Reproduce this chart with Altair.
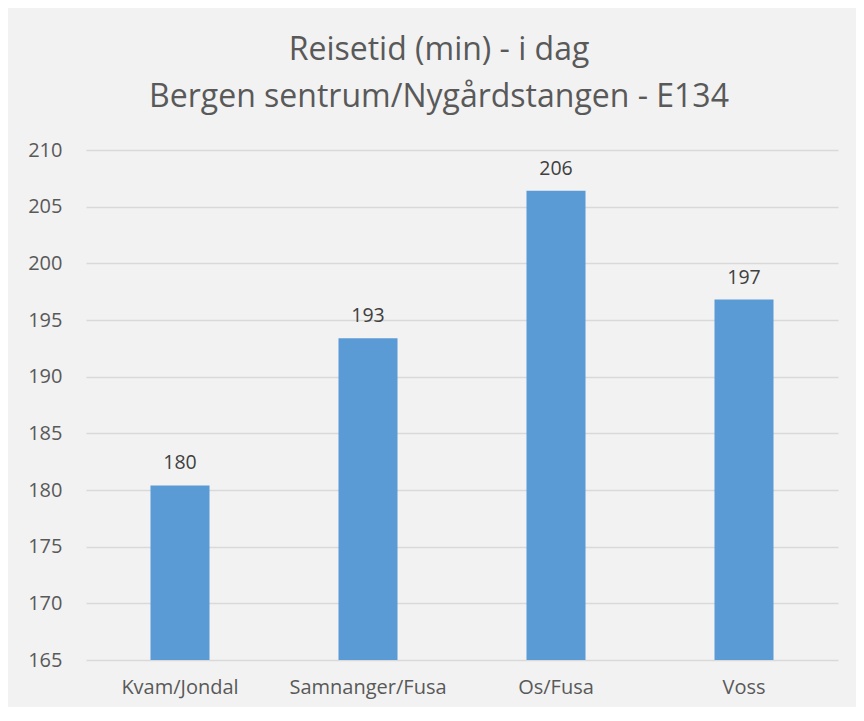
import altair as alt
import pandas as pd

categories = ["Kvam/Jondal", "Samnanger/Fusa", "Os/Fusa", "Voss"]
values = [180.4, 193.4, 206.4, 196.8]
y_ticks = [165, 170, 175, 180, 185, 190, 195, 200, 205, 210]

df = pd.DataFrame({"omrade": categories, "minutter": values})

font = "Open Sans"

base = alt.Chart(df).encode(
    x=alt.X("omrade:N", sort=categories, title=None,
            scale=alt.Scale(paddingInner=0.686, paddingOuter=0.343),
            axis=alt.Axis(labelAngle=0, labelFont=font, labelFontSize=20,
                          labelColor="#595959", ticks=False, domain=False,
                          labelPadding=17)),
    y=alt.Y("minutter:Q", title=None,
            scale=alt.Scale(domain=[165, 210], zero=False, nice=False, clamp=True),
            axis=alt.Axis(values=y_ticks, labelFont=font, labelFontSize=20,
                          labelColor="#595959", ticks=False, domain=False,
                          gridColor="#d9d9d9", gridWidth=1.5, labelPadding=24)),
)

bars = base.mark_bar(color="#5b9bd5")
labels = base.mark_text(dy=-22, font=font, fontSize=19.5, color="#404040").encode(
    text=alt.Text("minutter:Q", format=".0f"))

chart = (bars + labels).properties(
    width=752, height=510,
    background="#f2f2f2",
    padding={"left": 19, "top": 26, "right": 18, "bottom": 10},
    title=alt.TitleParams(
        ["Reisetid (min) - i dag", "Bergen sentrum/Nygårdstangen - E134"],
        font=font, fontSize=32, fontWeight="normal", color="#595959",
        anchor="middle", lineHeight=47, offset=26, dx=-23),
).configure_view(stroke=None)

chart.save("out.html", embed_options={"renderer": "svg", "actions": False})
